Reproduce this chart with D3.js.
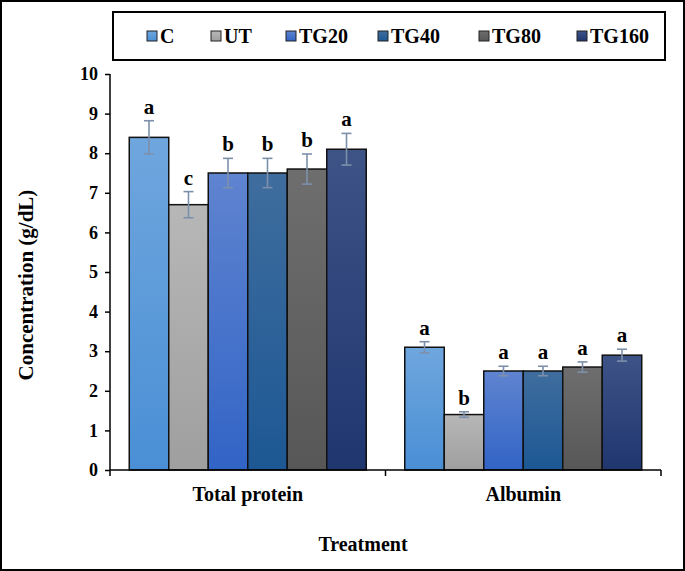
<!DOCTYPE html>
<html><head><meta charset="utf-8">
<script src="https://cdn.jsdelivr.net/npm/d3@7"></script>
<style>body{margin:0;background:#fff}svg{display:block}text{font-family:"Liberation Serif","Times New Roman",serif;font-weight:bold;fill:#000}</style>
</head><body><svg id="c" width="685" height="571"></svg>
<script>
const groups = ["Total protein", "Albumin"];
const series = ["C", "UT", "TG20", "TG40", "TG80", "TG160"];
const totalProtein = [8.4, 6.7, 7.5, 7.5, 7.6, 8.1];
const totalProteinErr = [0.42, 0.33, 0.37, 0.37, 0.38, 0.4];
const totalProteinLetters = ["a", "c", "b", "b", "b", "a"];
const albumin = [3.1, 1.4, 2.5, 2.5, 2.6, 2.9];
const albuminErr = [0.14, 0.07, 0.12, 0.12, 0.13, 0.15];
const albuminLetters = ["a", "b", "a", "a", "a", "a"];
const yTicks = [0,1,2,3,4,5,6,7,8,9,10];
const colorsTop = ["#6fa6de", "#b7b7b7", "#5f84d0", "#3f6d9e", "#6e6e6e", "#3e5386"];
const colorsBot = ["#4a8fd5", "#9f9f9f", "#3264c6", "#1d5894", "#575757", "#1f366f"];

const values = [totalProtein, albumin];
const errs = [totalProteinErr, albuminErr];
const letters = [totalProteinLetters, albuminLetters];

const svg = d3.select("#c");
const defs = svg.append("defs");
series.forEach((s,i)=>{
  const g = defs.append("linearGradient").attr("id","g"+i).attr("x1",0).attr("y1",0).attr("x2",0).attr("y2",1);
  g.append("stop").attr("offset","0%").attr("stop-color",colorsTop[i]);
  g.append("stop").attr("offset","100%").attr("stop-color",colorsBot[i]);
});

svg.append("rect").attr("x",1).attr("y",1).attr("width",683).attr("height",569).attr("fill","#fff").attr("stroke","#000").attr("stroke-width",2);

const x0 = d3.scaleBand().domain(groups).range([110, 661]).paddingInner(0).paddingOuter(0);
const x1 = d3.scaleBand().domain(series).range([0, x0.bandwidth()]).paddingInner(0).paddingOuter(0.4875);
const y = d3.scaleLinear().domain([0,10]).range([470, 74]);

// bars
groups.forEach((gname,gi)=>{
  const g = svg.append("g").attr("transform",`translate(${x0(gname)},0)`);
  series.forEach((s,i)=>{
    const v = values[gi][i], e = errs[gi][i];
    const bx = x1(s), bw = x1.bandwidth();
    g.append("rect").attr("x",bx).attr("y",y(v)).attr("width",bw).attr("height",y(0)-y(v))
      .attr("fill",`url(#g${i})`).attr("stroke","#111").attr("stroke-width",1.5);
    const cx = bx + bw/2;
    const ec = "#7d90ab";
    g.append("line").attr("x1",cx).attr("x2",cx).attr("y1",y(v+e)).attr("y2",y(v-e)).attr("stroke",ec).attr("stroke-width",1.6);
    [v+e, v-e].forEach(t=>g.append("line").attr("x1",cx-5).attr("x2",cx+5).attr("y1",y(t)).attr("y2",y(t)).attr("stroke",ec).attr("stroke-width",1.6));
    g.append("text").attr("x",cx).attr("y",y(v+e)-7).attr("text-anchor","middle").attr("font-size",21).text(letters[gi][i]);
  });
});

// y axis
const yAxis = svg.append("g").attr("transform","translate(110,0)")
  .call(d3.axisLeft(y).tickValues(yTicks).tickSize(5).tickFormat(d3.format("d")));
yAxis.selectAll("text").attr("font-size",18).attr("x",-12).attr("fill","#000");
yAxis.selectAll("line,path").attr("stroke","#000").attr("stroke-width",1.5);
yAxis.select("path").attr("d","M0,470V74");

// x axis
const xAxis = svg.append("g").attr("transform","translate(0,470)");
xAxis.append("line").attr("x1",110).attr("x2",661).attr("y1",0).attr("y2",0).attr("stroke","#000").attr("stroke-width",1.5);
[110, x0("Albumin"), 661].forEach(t=>xAxis.append("line").attr("x1",t).attr("x2",t).attr("y1",0).attr("y2",6).attr("stroke","#000").attr("stroke-width",1.5));
groups.forEach(gname=>svg.append("text").attr("x",x0(gname)+x0.bandwidth()/2).attr("y",501).attr("text-anchor","middle").attr("font-size",20).text(gname));

svg.append("text").attr("x",363).attr("y",551).attr("text-anchor","middle").attr("font-size",20).text("Treatment");
svg.append("text").attr("transform","translate(33,285) rotate(-90)").attr("text-anchor","middle").attr("font-size",21).text("Concentration (g/dL)");

// legend
svg.append("rect").attr("x",113).attr("y",12).attr("width",552).attr("height",48).attr("fill","#fff").attr("stroke","#000").attr("stroke-width",2);
const legX = [147, 211, 286, 378, 479, 577];
series.forEach((s,i)=>{
  svg.append("rect").attr("x",legX[i]).attr("y",31).attr("width",10).attr("height",10).attr("fill",`url(#g${i})`).attr("stroke","#222").attr("stroke-width",1);
  svg.append("text").attr("x",legX[i]+13).attr("y",43).attr("font-size",20).text(s);
});
</script></body></html>
